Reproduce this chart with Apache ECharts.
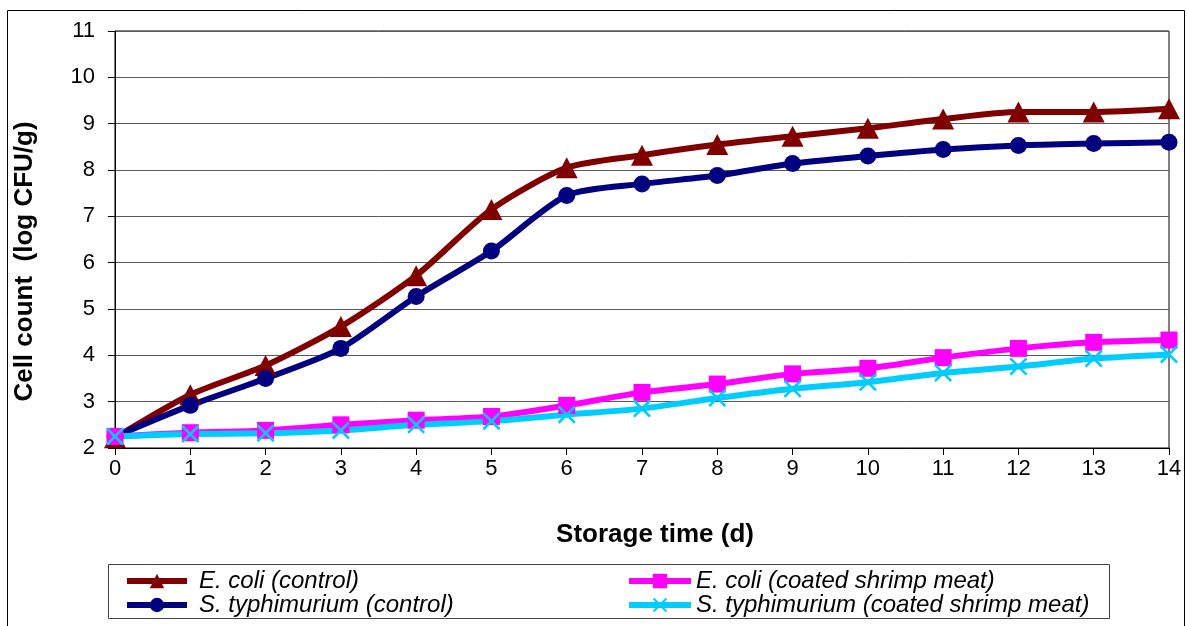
<!DOCTYPE html>
<html>
<head>
<meta charset="utf-8">
<script src="https://cdn.jsdelivr.net/npm/echarts@6/dist/echarts.min.js"></script>
<style>
  html, body { margin: 0; padding: 0; background: #fff; }
  #chart { width: 1187px; height: 626px; }
</style>
</head>
<body>
<div id="chart"></div>
<script>
// Storage days
const days = ['0','1','2','3','4','5','6','7','8','9','10','11','12','13','14'];

// Cell counts, log CFU/g
const ecoliControl = [2.22, 3.15, 3.78, 4.62, 5.72, 7.15, 8.05, 8.32, 8.55, 8.73, 8.9, 9.1, 9.25, 9.25, 9.32];
const styphiControl = [2.25, 2.92, 3.5, 4.15, 5.27, 6.25, 7.45, 7.7, 7.88, 8.14, 8.3, 8.44, 8.53, 8.57, 8.6];
const ecoliCoated = [2.25, 2.33, 2.38, 2.5, 2.6, 2.68, 2.92, 3.2, 3.38, 3.6, 3.72, 3.95, 4.15, 4.28, 4.33];
const styphiCoated = [2.25, 2.3, 2.32, 2.38, 2.5, 2.58, 2.72, 2.85, 3.08, 3.28, 3.42, 3.62, 3.76, 3.93, 4.02];

const seriesNames = [
  'E. coli (control)',
  'S. typhimurium (control)',
  'E. coli (coated shrimp meat)',
  'S. typhimurium (coated shrimp meat)'
];

const FONT = '"Liberation Sans", Arial, sans-serif';
const crossPath = 'path://M0,1L1,0L10,9L9,10ZM9,0L10,1L1,10L0,9Z';

function lineSeries(name, data, color, symbol, size) {
  return {
    name: name,
    type: 'line',
    data: data,
    smooth: 0.25,
    symbol: symbol,
    symbolSize: size,
    showAllSymbol: true,
    lineStyle: { color: color, width: 6 },
    itemStyle: { color: color },
    emphasis: { disabled: true }
  };
}

const chart = echarts.init(document.getElementById('chart'), null, { renderer: 'canvas' });

chart.setOption({
  animation: false,
  backgroundColor: '#fff',
  textStyle: { fontFamily: FONT },
  grid: {
    left: 115, right: 18, top: 31, bottom: 178,
    show: true, borderColor: '#000', borderWidth: 1
  },
  xAxis: {
    type: 'category',
    data: days,
    boundaryGap: false,
    name: 'Storage time (d)',
    nameLocation: 'middle',
    nameGap: 74,
    nameTextStyle: { fontFamily: FONT, fontSize: 26, fontWeight: 'bold', color: '#000', padding: [0, 0, 0, 26] },
    axisLine: { lineStyle: { color: '#000', width: 1 } },
    axisTick: { show: true, alignWithLabel: true, length: 7, lineStyle: { color: '#000' } },
    axisLabel: { fontFamily: FONT, fontSize: 22, color: '#000', margin: 10 },
    splitLine: { show: false }
  },
  yAxis: {
    type: 'value',
    min: 2, max: 11, interval: 1,
    name: 'Cell count  (log CFU/g)',
    nameLocation: 'middle',
    nameGap: 77,
    nameTextStyle: { fontFamily: FONT, fontSize: 26, fontWeight: 'bold', color: '#000', padding: [0, 44, 0, 0] },
    axisLine: { show: true, lineStyle: { color: '#000', width: 1 } },
    axisTick: { show: true, length: 7, lineStyle: { color: '#000' } },
    axisLabel: { fontFamily: FONT, fontSize: 22, color: '#000', margin: 20 },
    splitLine: { show: true, lineStyle: { color: '#5a5a5a', width: 1 } }
  },
  legend: [
    {
      data: [seriesNames[0], seriesNames[1]],
      orient: 'vertical',
      left: 124, top: 569, width: 460, height: 56,
      padding: 0,
      itemWidth: 60, itemHeight: 18, itemGap: 0,
      lineStyle: { width: 6 },
      textStyle: { fontFamily: FONT, fontSize: 24, lineHeight: 22, fontStyle: 'italic', color: '#000', padding: [0, 0, 0, 7] },
      selectedMode: false
    },
    {
      data: [seriesNames[2], seriesNames[3]],
      orient: 'vertical',
      left: 626, top: 569, width: 480, height: 56,
      padding: 0,
      itemWidth: 62, itemHeight: 18, itemGap: 0,
      lineStyle: { width: 6 },
      textStyle: { fontFamily: FONT, fontSize: 24, lineHeight: 22, fontStyle: 'italic', color: '#000' },
      selectedMode: false
    }
  ],
  graphic: [
    {
      type: 'rect', silent: true, z: -1,
      shape: { x: 7.5, y: 10.5, width: 1177, height: 630 },
      style: { fill: null, stroke: '#000', lineWidth: 1 }
    },
    {
      type: 'rect', silent: true, z: -1,
      shape: { x: 108.5, y: 564.5, width: 1001, height: 54 },
      style: { fill: '#fff', stroke: '#444', lineWidth: 1 }
    }
  ],
  series: [
    lineSeries(seriesNames[0], ecoliControl, '#800000', 'triangle', [22, 21]),
    lineSeries(seriesNames[1], styphiControl, '#000080', 'circle', 17),
    lineSeries(seriesNames[2], ecoliCoated, '#ff00ff', 'rect', 17),
    lineSeries(seriesNames[3], styphiCoated, '#00ccff', crossPath, 18)
  ]
});
</script>
</body>
</html>
